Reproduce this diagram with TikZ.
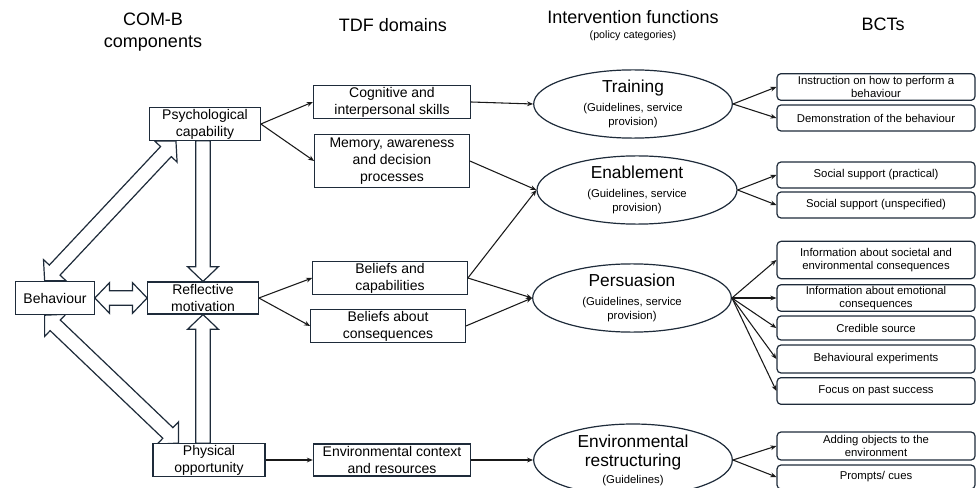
\documentclass[tikz,border=0pt]{standalone}
\usepackage{fontspec}
\setmainfont{Liberation Sans}
\usetikzlibrary{arrows.meta,calc,positioning,shapes.geometric}
\definecolor{navy}{HTML}{1E2B3A}
\newcommand{\hd}{\fontsize{13.5}{16}\selectfont}
\newcommand{\bx}{\fontsize{10.5}{12.75}\selectfont}
\newcommand{\ttl}{\fontsize{13}{15}\selectfont}
\newcommand{\sbt}{\fontsize{8.5}{10.5}\selectfont}
\newcommand{\bct}{\fontsize{8.5}{10}\selectfont}
\newcommand{\fashaft}{5.5pt}
\newcommand{\fahalf}{11.5pt}
\newcommand{\falen}{11pt}
% hollow block arrow, one head
\newcommand{\fatarrow}[2]{%
  \coordinate (fb) at ($(#2)!\falen!(#1)$);
  \draw[fat] ($(#1)!\fashaft!90:(#2)$) -- ($(fb)!\fashaft!90:(#2)$) -- ($(fb)!\fahalf!90:(#2)$) -- (#2)
    -- ($(fb)!\fahalf!-90:(#2)$) -- ($(fb)!\fashaft!-90:(#2)$) -- ($(#1)!\fashaft!-90:(#2)$) -- cycle;}
% hollow block arrow, two heads
\newcommand{\fatdarrow}[2]{%
  \coordinate (fa) at ($(#1)!\falen!(#2)$);
  \coordinate (fb) at ($(#2)!\falen!(#1)$);
  \draw[fat] (#1) -- ($(fa)!\fahalf!90:(#2)$) -- ($(fa)!\fashaft!90:(#2)$) -- ($(fb)!\fashaft!90:(#2)$)
    -- ($(fb)!\fahalf!90:(#2)$) -- (#2) -- ($(fb)!\fahalf!-90:(#2)$) -- ($(fb)!\fashaft!-90:(#2)$)
    -- ($(fa)!\fashaft!-90:(#2)$) -- ($(fa)!\fahalf!-90:(#2)$) -- cycle;}
\pgfdeclarelayer{background}
\pgfsetlayers{background,main}

\begin{document}
\begin{tikzpicture}[x=0.75pt,y=-0.75pt,
    box/.style={draw=navy,fill=white,line width=0.8pt,align=center,font=\bx,inner sep=1pt,minimum height=24pt},
    ifn/.style={ellipse,draw=navy,fill=white,line width=0.9pt,inner sep=0pt,minimum width=149pt,minimum height=46pt,align=center,font=\sbt},
    bct/.style={draw=navy,fill=white,rounded corners=3pt,line width=0.9pt,minimum width=148.5pt,minimum height=19.5pt,inner sep=1pt,align=center,font=\bct},
    lnk/.style={-{Stealth[length=4.5pt,width=3.6pt]},line width=0.8pt,draw=black!90},
    fat/.style={draw=navy,fill=white,line width=0.9pt,line join=miter}]
      \useasboundingbox (0,0) rectangle (980,488);

      % headings
      \node[font=\hd,align=center] (comb) at (153,32) {COM-B\\components};
      \node[font=\hd] (tdf) at (393,25) {TDF domains};
      \node[font=\hd] (ifun) at (633,17) {Intervention functions};
      \node[font=\fontsize{8}{9}\selectfont] (pcat) at (633,36) {(policy categories)};
      \node[font=\hd] (bcts) at (883,24) {BCTs};

      % COM-B components
      \node[box,minimum width=83pt] (psych) at (205,124) {Psychological\\capability};
      \node[box,minimum width=83pt] (refl) at (203,298) {Reflective\\motivation};
      \node[box,minimum width=59pt,minimum height=25pt] (beh) at (55,298) {Behaviour};
      \node[box,minimum width=84pt] (phys) at (209,460) {Physical\\opportunity};

      % TDF domains
      \node[box,minimum width=118pt] (cog) at (392,102) {Cognitive and\\interpersonal skills};
      \node[box,minimum width=116pt,minimum height=40pt] (mem) at (392,161) {Memory, awareness\\and decision\\processes};
      \node[box,minimum width=116pt] (bcap) at (390,278) {Beliefs and\\capabilities};
      \node[box,minimum width=116pt] (bcons) at (388,326) {Beliefs about\\consequences};
      \node[box,minimum width=118pt] (envc) at (392,460) {Environmental context\\and resources};

      % intervention functions
      \node[ifn] (train) at (633,104) {{\ttl Training}\\[4pt]{(Guidelines, service}\\{provision)}};
      \node[ifn,minimum width=150pt] (enab) at (637,190) {{\ttl Enablement}\\[4pt]{(Guidelines, service}\\{provision)}};
      \node[ifn,minimum height=48pt] (pers) at (632,298) {{\ttl Persuasion}\\[4pt]{(Guidelines, service}\\{provision)}};
      \node[ifn,minimum height=48pt] (envr) at (633,460) {{\ttl Environmental}\\[4pt]{\ttl restructuring}\\[2pt]{(Guidelines)}};

      % BCTs
      \node[bct,minimum height=20pt] (instr) at (876,87) {Instruction on how to perform a\\behaviour};
      \node[bct] (demo) at (876,118) {Demonstration of the behaviour};
      \node[bct] (socp) at (876,175) {Social support (practical)};
      \node[bct] (socu) at (876,205) {Social support (unspecified)};
      \node[bct,minimum height=28pt] (infsoc) at (876,260) {Information about societal and\\environmental consequences};
      \node[bct] (infemo) at (876,298) {Information about emotional\\consequences};
      \node[bct,minimum height=18pt] (cred) at (876,328) {Credible source};
      \node[bct,minimum height=21pt] (bexp) at (876,359) {Behavioural experiments};
      \node[bct,minimum height=20pt] (past) at (876,391) {Focus on past success};
      \node[bct,minimum height=21pt] (addobj) at (876,446) {Adding objects to the\\environment};
      \node[bct,minimum height=18pt] (prompt) at (876,477) {Prompts/ cues};

      % block arrows between the COM-B components
      \coordinate (bn) at ($(beh.north west)!0.37!(beh.north east)$);
      \coordinate (bs) at ($(beh.south west)!0.37!(beh.south east)$);
      \coordinate (pc) at ($(psych.south west)!0.24!(psych.south east)$);
      \coordinate (po) at ($(phys.north west)!0.23!(phys.north east)$);
      \begin{pgfonlayer}{background}
        \fatdarrow{bn}{pc}
        \fatdarrow{bs}{po}
        \fatdarrow{beh.east}{refl.west}
        \fatarrow{refl.north |- psych.south}{refl.north}
        \fatarrow{refl.south |- phys.north}{refl.south}
      \end{pgfonlayer}

      % COM-B to TDF
      \draw[lnk] (psych.east) -- (cog.west);
      \draw[lnk] (psych.east) -- (mem.west);
      \draw[lnk] (refl.east) -- (bcap.west);
      \draw[lnk] (refl.east) -- (bcons.west);
      \draw[lnk] (phys.east) -- (envc.west);

      % TDF to intervention functions
      \draw[lnk] (cog.east) -- (train.west);
      \draw[lnk] (mem.east) -- (enab.west);
      \draw[lnk] (bcap.east) -- (enab.west);
      \draw[lnk] (bcap.east) -- (pers.west);
      \draw[lnk] (bcons.east) -- (pers.west);
      \draw[lnk] (envc.east) -- (envr.west);

      % intervention functions to BCTs
      \draw[lnk] (train.east) -- (instr.west);
      \draw[lnk] (train.east) -- (demo.west);
      \draw[lnk] (enab.east) -- (socp.west);
      \draw[lnk] (enab.east) -- (socu.west);
      \foreach \t in {infsoc,infemo,cred,bexp,past}
        \draw[lnk] (pers.east) -- (\t.west);
      \draw[lnk] (envr.east) -- (addobj.west);
      \draw[lnk] (envr.east) -- (prompt.west);
    \end{tikzpicture}
\end{document}
